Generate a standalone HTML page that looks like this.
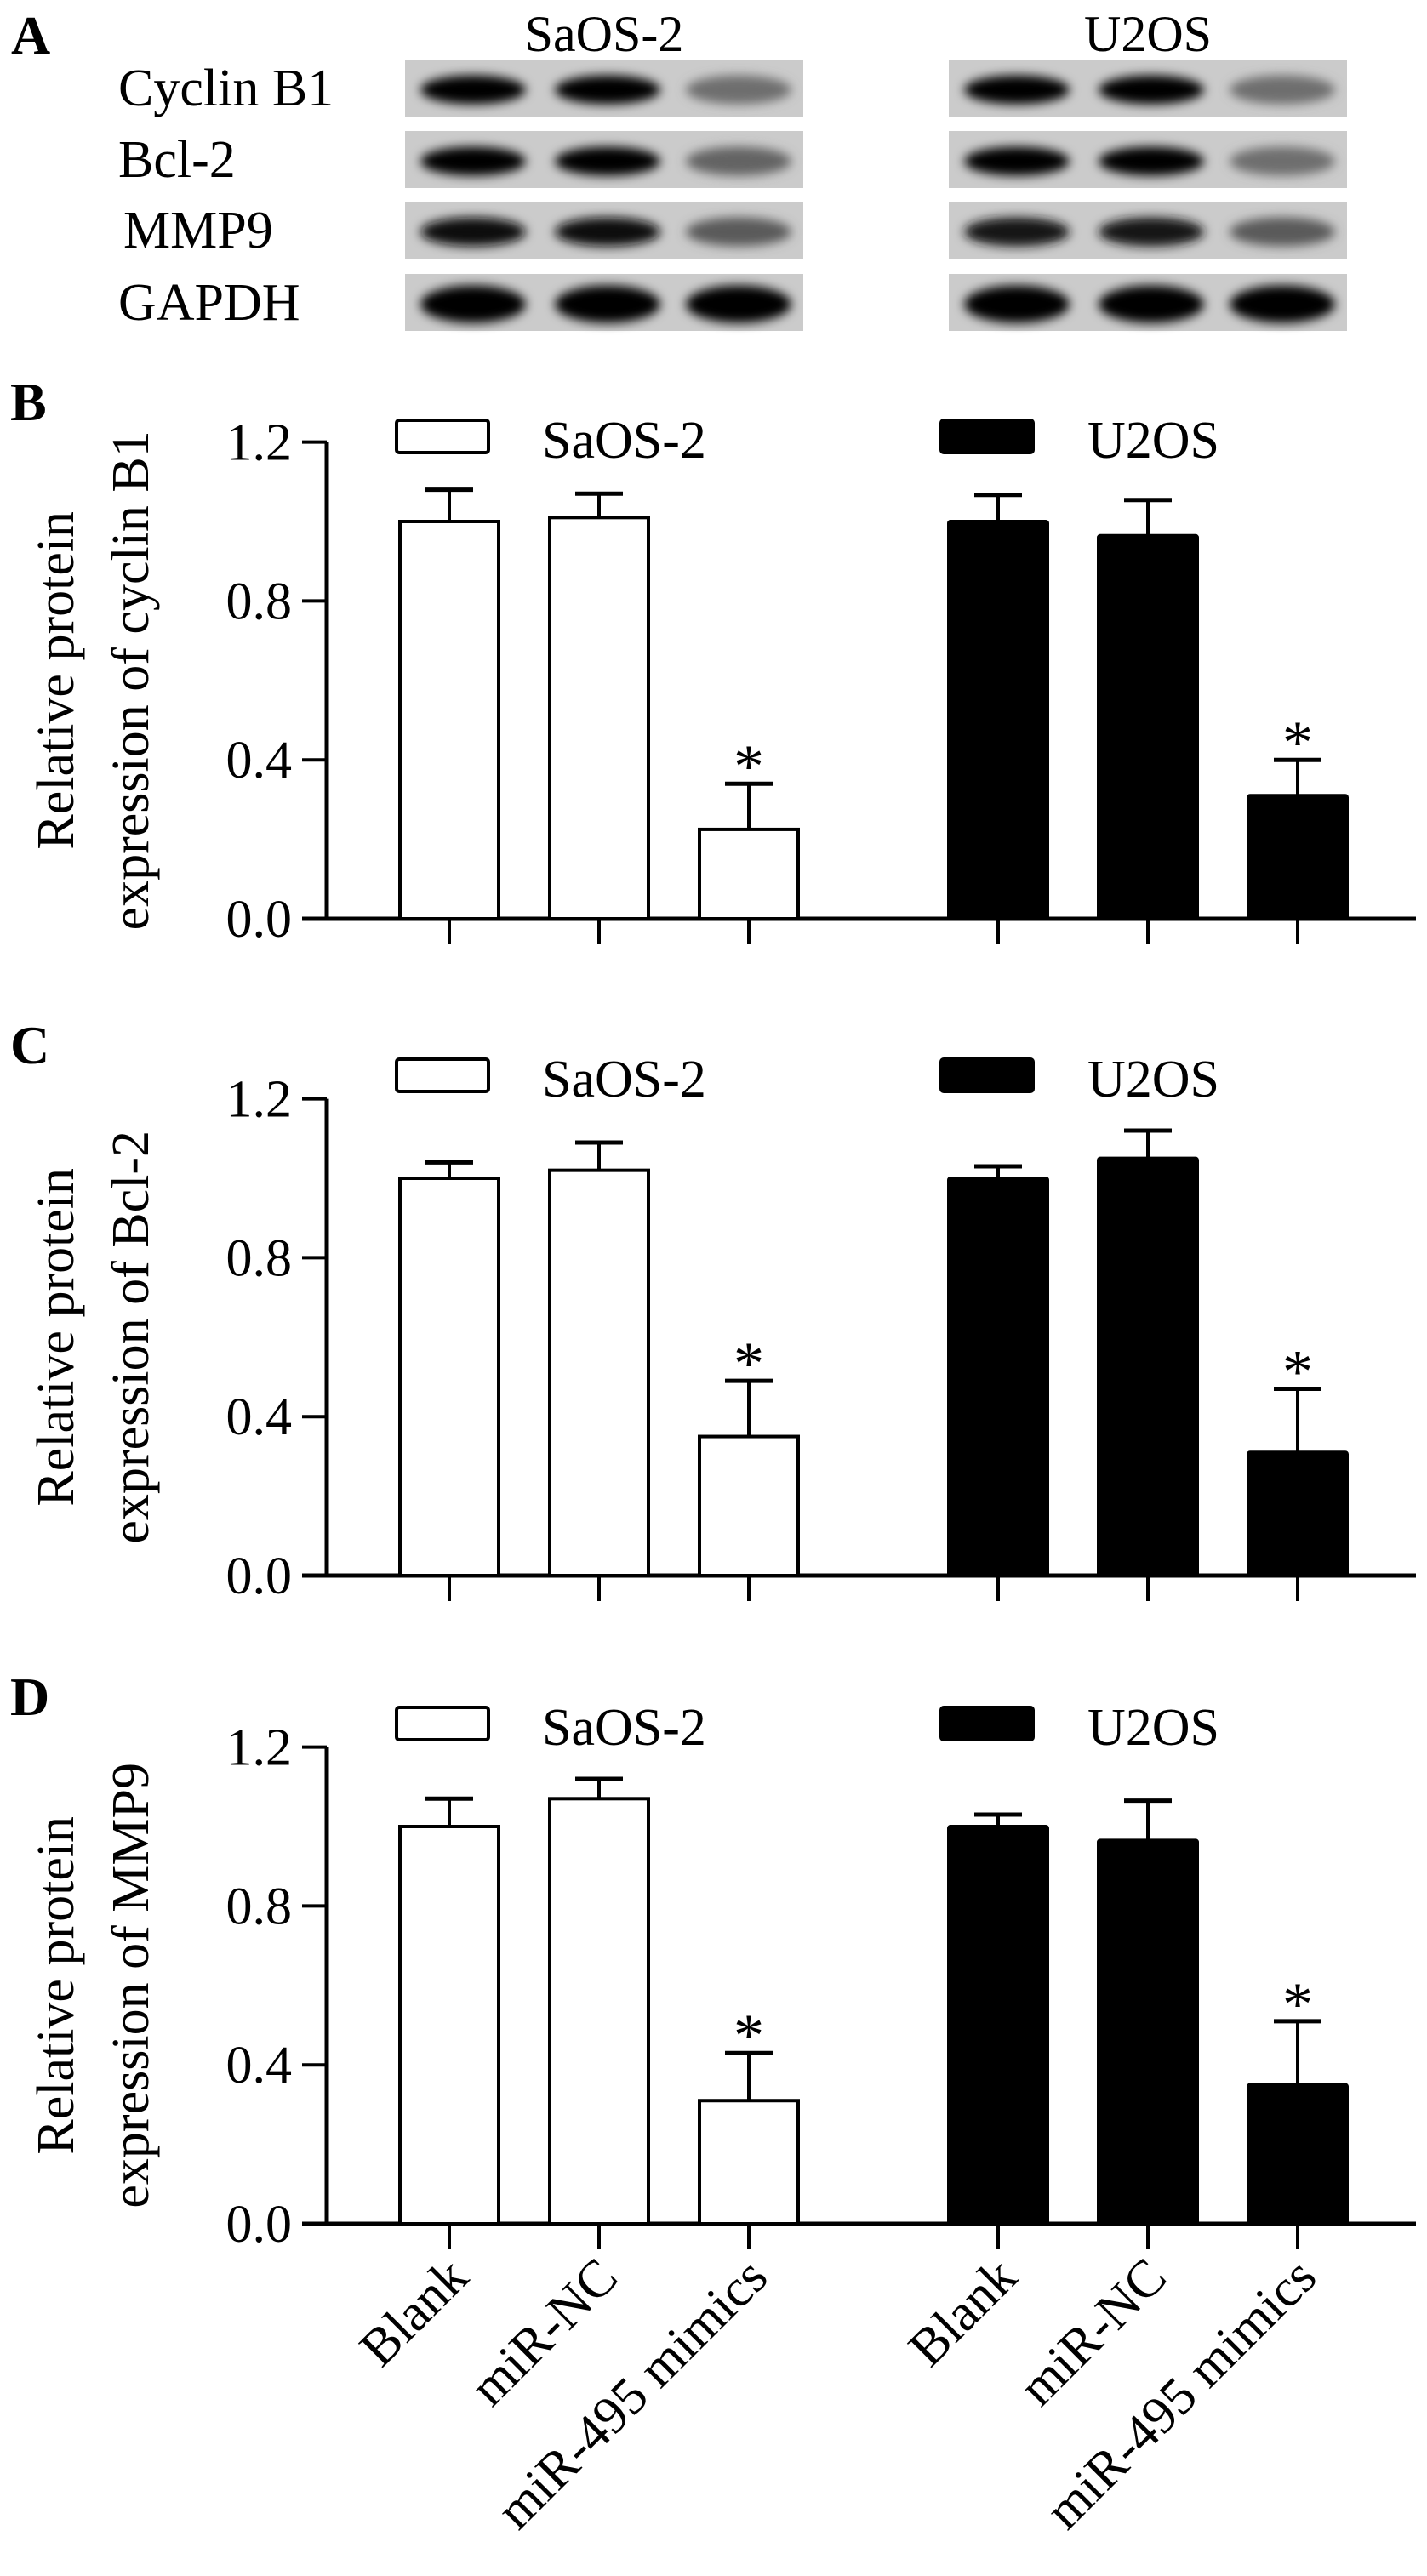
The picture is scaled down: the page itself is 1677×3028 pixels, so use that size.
<!DOCTYPE html>
<html><head><meta charset="utf-8"><style>
html,body{margin:0;padding:0;background:#fff}
svg{display:block}
svg text{font-family:"Liberation Serif","Times New Roman",Times,serif;fill:#000}
</style></head><body>
<svg id="fig" xmlns="http://www.w3.org/2000/svg" width="1677" height="3028" viewBox="0 0 1677 3028" font-family="Liberation Serif, Times New Roman, serif">
<defs><filter id="blur" x="-20%" y="-50%" width="140%" height="200%"><feGaussianBlur stdDeviation="6"/></filter></defs>
<g id="blot"></g>
<g id="charts"></g>
</svg>
<script>
// ---- data ----
const categories = ["Blank", "miR-NC", "miR-495 mimics"];
const groups = ["SaOS-2", "U2OS"];
const yTicks = [0.0, 0.4, 0.8, 1.2];
const yTickLabels = ["0.0", "0.4", "0.8", "1.2"];
const cyclinSaosMean = [1.00, 1.01, 0.225];
const cyclinSaosErr = [0.08, 0.06, 0.115];
const cyclinU2osMean = [1.00, 0.964, 0.31];
const cyclinU2osErr = [0.067, 0.09, 0.09];
const bclSaosMean = [1.00, 1.02, 0.35];
const bclSaosErr = [0.04, 0.07, 0.14];
const bclU2osMean = [1.00, 1.05, 0.31];
const bclU2osErr = [0.03, 0.07, 0.16];
const mmpSaosMean = [1.00, 1.07, 0.31];
const mmpSaosErr = [0.07, 0.05, 0.12];
const mmpU2osMean = [1.00, 0.965, 0.35];
const mmpU2osErr = [0.03, 0.10, 0.16];
const significant = [false, false, true];
const blotProteins = ["Cyclin B1", "Bcl-2", "MMP9", "GAPDH"];
const bandIntensitySaos = [[1, 1, 0.45], [1, 1, 0.5], [0.95, 0.95, 0.55], [1, 1, 1]];
const bandIntensityU2os = [[1, 1, 0.45], [1, 1, 0.45], [0.9, 0.9, 0.55], [1, 1, 1]];

const NS = "http://www.w3.org/2000/svg";
const FONT = '"Liberation Serif", "Times New Roman", serif';
function mk(tag, attrs, parent, txt) {
  const e = document.createElementNS(NS, tag);
  for (const k in attrs) if (attrs[k] !== undefined) e.setAttribute(k, attrs[k]);
  if (tag === 'text') e.style.fontFamily = FONT;
  if (txt !== undefined) e.textContent = txt;
  parent.appendChild(e);
  return e;
}

// ---- blot panel ----
const blot = document.getElementById('blot');
let t = mk('text', {x: 13, y: 63, 'font-size': 64, 'font-weight': 'bold'}, blot, 'A');


const blotX = [476, 1115], blotW = 468;
const laneOffsets = [80, 238, 392];
const rowY = [70, 154, 237, 322], rowH = 67;
const labelX = [139, 139, 145, 139];
groups.forEach((g, gi) => {
  t = mk('text', {x: blotX[gi] + blotW / 2, y: 60, 'font-size': 60, 'text-anchor': 'middle'}, blot, g);
  
  
});
blotProteins.forEach((p, ri) => {
  t = mk('text', {x: labelX[ri], y: rowY[ri] + 54, 'font-size': 62}, blot, p);
  
  
  groups.forEach((g, gi) => {
    const r = mk('rect', {x: blotX[gi], y: rowY[ri], width: blotW, height: rowH, fill: '#cbcbcb'}, blot);
    
    
    const ints = gi ? bandIntensityU2os[ri] : bandIntensitySaos[ri];
    ints.forEach((v, li) => {
      const c = Math.round(200 - 200 * v);
      const e = mk('ellipse', {cx: blotX[gi] + laneOffsets[li], cy: rowY[ri] + rowH / 2 + 2, rx: 62, ry: ri == 3 ? 22 : 17, fill: `rgb(${c},${c},${c})`, filter: 'url(#blur)'}, blot);
      
      
    });
  });
});

// ---- charts ----
const charts = document.getElementById('charts');
const panels = [
  {letter: 'B', y0: 1080, letterY: 494, legY: 494, title2: 'expression of cyclin B1', s: [cyclinSaosMean, cyclinSaosErr], u: [cyclinU2osMean, cyclinU2osErr]},
  {letter: 'C', y0: 1852, letterY: 1250, legY: 1245, title2: 'expression of Bcl-2', s: [bclSaosMean, bclSaosErr], u: [bclU2osMean, bclU2osErr]},
  {letter: 'D', y0: 2614, letterY: 2016, legY: 2007, title2: 'expression of MMP9', s: [mmpSaosMean, mmpSaosErr], u: [mmpU2osMean, mmpU2osErr]}
];
const pxPerUnit = 467;
const axisX = 384, axisEnd = 1664;
const groupCenters = [[528, 704, 880], [1173, 1349, 1525]];
const barW = 116, capW = 56;

panels.forEach((P, pi) => {
  const g = mk('g', {}, charts);
  
  
  const yScale = v => P.y0 - v * pxPerUnit;
  t = mk('text', {x: 12, y: P.letterY, 'font-size': 64, 'font-weight': 'bold'}, g, P.letter);
  
  
  const cy = yScale(0.6);
  t = mk('text', {x: 0, y: 0, 'font-size': 62, 'text-anchor': 'middle', transform: `translate(86,${cy}) rotate(-90)`}, g, 'Relative protein');
  
  
  t = mk('text', {x: 0, y: 0, 'font-size': 62, 'text-anchor': 'middle', transform: `translate(174,${cy}) rotate(-90)`}, g, P.title2);
  
  
  let l = mk('line', {x1: axisX, y1: yScale(1.2), x2: axisX, y2: P.y0, stroke: '#000', 'stroke-width': 5}, g);
  
  
  yTicks.forEach((v, i) => {
    const y = yScale(v);
    const tk = mk('line', {x1: 355, y1: y, x2: axisX, y2: y, stroke: '#000', 'stroke-width': 4}, g);
    
    
    const tl = mk('text', {x: 343, y: y + 21, 'font-size': 62, 'text-anchor': 'end'}, g, yTickLabels[i]);
    
    
  });
  l = mk('line', {x1: 355, y1: P.y0, x2: axisEnd, y2: P.y0, stroke: '#000', 'stroke-width': 5}, g);
  
  
  const legBoxX = [466, 1106], legTextX = [637, 1278];
  groups.forEach((gn, gi) => {
    const r = mk('rect', {x: legBoxX[gi], y: P.legY, width: 108, height: 38, rx: 3, fill: gi ? '#000' : '#fff', stroke: '#000', 'stroke-width': 4}, g);
    
    
    const lt = mk('text', {x: legTextX[gi], y: P.legY + 44, 'font-size': 62}, g, gn);
    
    
  });
  [P.s, P.u].forEach((ser, gi) => {
    const means = ser[0], errs = ser[1];
    categories.forEach((c, ci) => {
      const cx = groupCenters[gi][ci];
      const top = yScale(means[ci]), etop = yScale(means[ci] + errs[ci]);
      const el = mk('line', {x1: cx, y1: top, x2: cx, y2: etop, stroke: '#000', 'stroke-width': 4}, g);
      
      
      const cap = mk('line', {x1: cx - capW / 2, y1: etop, x2: cx + capW / 2, y2: etop, stroke: '#000', 'stroke-width': 5}, g);
      
      
      const b = mk('rect', {x: cx - barW / 2, y: top, width: barW, height: P.y0 - top, fill: gi ? '#000' : '#fff', stroke: '#000', 'stroke-width': 4, rx: gi ? 2 : 0}, g);
      
      
      const tk = mk('line', {x1: cx, y1: P.y0, x2: cx, y2: P.y0 + 30, stroke: '#000', 'stroke-width': 4}, g);
      
      
      if (significant[ci]) {
        const a = mk('text', {x: cx, y: etop + 4, 'font-size': 72, 'text-anchor': 'middle'}, g, '*');
        
        
      }
      if (pi == 2) {
        const px = cx + 25, py = P.y0 + 66;
        const xl = mk('text', {x: 0, y: 0, 'font-size': 62, 'text-anchor': 'end', transform: `translate(${px},${py}) rotate(-45)`}, g, c);
        
        
      }
    });
  });
});
</script>
</body></html>
